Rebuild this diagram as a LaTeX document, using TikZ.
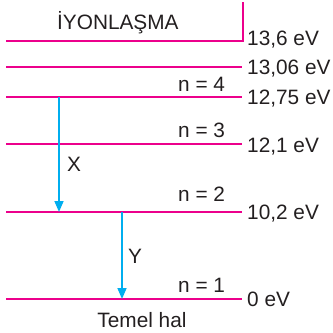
\documentclass[tikz,border=0pt]{standalone}
\usepackage{fontspec}
\setmainfont{Liberation Sans}
\usetikzlibrary{arrows.meta,positioning}
\definecolor{level}{RGB}{236,0,140}
\definecolor{jump}{RGB}{0,174,239}
\definecolor{ink}{RGB}{35,31,32}
\tikzset{
  lvl/.style={level,line width=1.4pt},
  jmp/.style={jump,line width=1.6pt,-{Triangle[length=11pt,width=9pt]}},
  txt/.style={font=\fontsize{20.8}{25}\selectfont,text=ink,inner sep=0pt,anchor=base west},
}

\begin{document}
\begin{tikzpicture}[x=1pt,y=-1pt]
        \useasboundingbox (0,0) rectangle (333,333);
        % energy levels
        \coordinate (ionL) at (6,41);
        \coordinate (ionR) at (243,41);
        \coordinate (ionT) at (243,2);
        \draw[lvl] (ionL) -- (ionR) -- (ionT);
        \draw[lvl] (6,67) coordinate (l5a) -- (242,67) coordinate (l5b);
        \draw[lvl] (6,97) coordinate (l4a) -- (242,97) coordinate (l4b);
        \draw[lvl] (6,144) coordinate (l3a) -- (242,144) coordinate (l3b);
        \draw[lvl] (6,212) coordinate (l2a) -- (242,212) coordinate (l2b);
        \draw[lvl] (6,299) coordinate (l1a) -- (242,299) coordinate (l1b);
        % energies
        \node[txt] (e6) at (247,45) {13,6 eV};
        \node[txt] (e5) at (247,74) {13,06 eV};
        \node[txt] (e4) at (247,104) {12,75 eV};
        \node[txt] (e3) at (247,152.5) {12,1 eV};
        \node[txt] (e2) at (247,219) {10,2 eV};
        \node[txt] (e1) at (247,306.5) {0 eV};
        % quantum numbers
        \node[txt] (n4) at (178,91.5) {n = 4};
        \node[txt] (n3) at (178,137.5) {n = 3};
        \node[txt] (n2) at (178,201.5) {n = 2};
        \node[txt] (n1) at (178,292.5) {n = 1};
        \node[txt] (ion) at (57,29) {İYONLAŞMA};
        \node[txt,anchor=base] (ground) at (142,327.5) {Temel hal};
        % transitions
        \coordinate (xs) at (59,97);
        \coordinate (xe) at (59,212);
        \coordinate (ys) at (122,212);
        \coordinate (ye) at (122,299);
        \draw[jmp] (xs) -- (xe);
        \draw[jmp] (ys) -- (ye);
        \node[txt] (xlab) at (67,171.5) {X};
        \node[txt] (ylab) at (128,263.5) {Y};
      \end{tikzpicture}
\end{document}
